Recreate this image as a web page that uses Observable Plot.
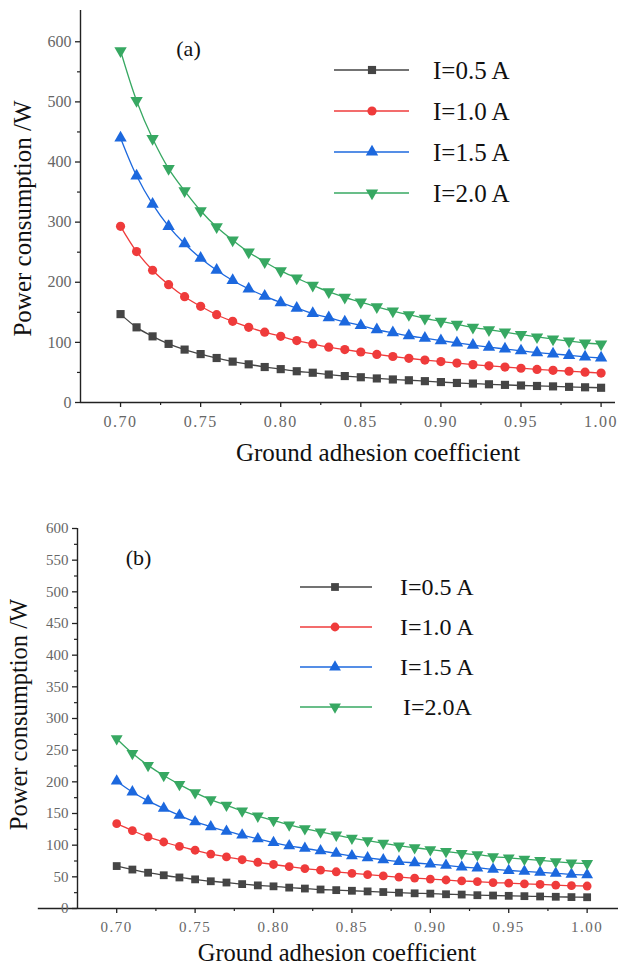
<!DOCTYPE html>
<html>
<head>
<meta charset="utf-8">
<script src="https://cdn.jsdelivr.net/npm/d3@7"></script>
<script src="https://cdn.jsdelivr.net/npm/@observablehq/plot@0.6"></script>
<style>
  html, body { margin: 0; padding: 0; background: #fff; }
  #wrap { width: 619px; }
  #wrap svg { display: block; }
  #wrap svg text { font-family: 'Liberation Serif', 'Times New Roman', serif !important; }
</style>
</head>
<body>
<div id="wrap"></div>
<script>
// ---------- data ----------
const mu = [0.70,0.71,0.72,0.73,0.74,0.75,0.76,0.77,0.78,0.79,0.80,0.81,0.82,0.83,0.84,0.85,0.86,0.87,0.88,0.89,0.90,0.91,0.92,0.93,0.94,0.95,0.96,0.97,0.98,0.99,1.00];

const seriesA = ["I=0.5 A", "I=1.0 A", "I=1.5 A", "I=2.0 A"];
const seriesB = ["I=0.5 A", "I=1.0 A", "I=1.5 A", "I=2.0A"];

const a05 = [147,125,110,97.5,88,80.5,74,68,63.5,59,55.5,52,49.5,46.5,44,42,40,38.3,37,35.5,34,32.5,31.5,30.3,29.3,28.3,27.5,26.8,26,25.3,24.5];
const a10 = [293,251,220,196,176,160,146,135,125,117,110,103,97.5,92,88,84,80,76.5,73.5,70.5,68,65.5,63,61,59,57,55,53.5,52,50.5,49];
const a15 = [440,377,330,293,264,240,220,203,189,177,166,157,148,141,134,128,121,116,111,107,103,99,95.5,92,89,86,83,81,78.5,76,74];
const a20 = [585,502,439,389,352,319,292,270,250,234,219,207,195,184,175,167,159,152,146,140,135,130,125,121,117,113,109,105.5,102,99,97];

const b05 = [67,61.5,56.5,52.5,49,46,43,41,38.5,36.5,35,33,31.5,30,29,28,27,26,25,24,23.5,22.5,22,21,20.5,20,19.5,19,18.5,18,17.8];
const b10 = [134,123,113,105,98,92,86,81.5,77,73,69.5,66,63,60.5,58,55.5,53.5,51.5,49.5,48,46.5,45,43.5,42.5,41,40,39,38,37,36,35.5];
const b15 = [201,184,170,158,147,137,129,122,116,110,104,99,95,91,87,83,80,77,74,72,70,68,65.5,64,62,60,58.5,57,55.5,54,53];
const b20 = [268,245,226,210,196,183,172,163,154,146,139,132,126,121,116,111,107,103,99,96,93,90,87,85,82,80,78,76,74,72,71];

const xMajor = [0.70,0.75,0.80,0.85,0.90,0.95,1.00];
const xMinor = [0.725,0.775,0.825,0.875,0.925,0.975];
const yMajorA = [0,100,200,300,400,500,600];
const yMinorA = [50,150,250,350,450,550];
const yMajorB = [0,50,100,150,200,250,300,350,400,450,500,550,600];
const yMinorB = [25,75,125,175,225,275,325,375,425,475,525,575];

const colors = ["#454545", "#ef3b3b", "#1c68de", "#37a862"];
const xTitle = "Ground adhesion coefficient";
const yTitle = "Power consumption /W";

// ---------- helpers ----------
const triDown = {
  draw(context, size) {
    const y = -Math.sqrt(size / (Math.sqrt(3) * 3));
    context.moveTo(0, -y * 2);
    context.lineTo(-Math.sqrt(3) * y, y);
    context.lineTo(Math.sqrt(3) * y, y);
    context.closePath();
  }
};
const symbols = [d3.symbolSquare, d3.symbolCircle, d3.symbolTriangle, triDown];

function tidy(names, arrays) {
  const out = [];
  names.forEach((s, i) => arrays[i].forEach((v, j) => out.push({series: s, x: mu[j], y: v})));
  return out;
}

const FONT = "'Liberation Serif', 'Times New Roman', serif";

function panel(o) {
  const data = tidy(o.names, o.arrays);
  const svg = Plot.plot({
    width: 619,
    height: o.height,
    marginLeft: o.ml, marginRight: o.mr, marginTop: o.mt, marginBottom: o.mb,
    style: {fontFamily: FONT, background: "#fff", overflow: "visible"},
    x: {domain: o.xDomain},
    y: {domain: o.yDomain},
    color: {domain: o.names, range: colors},
    symbol: {domain: o.names, range: symbols},
    marks: [
      Plot.line(data, {x: "x", y: "y", z: "series", stroke: "series", strokeWidth: 1.3, curve: "catmull-rom"}),
      Plot.dot(data, {x: "x", y: "y", fill: "series", symbol: "series", r: o.r, stroke: "none"}),
      // axis lines
      Plot.ruleY([0], {x1: o.axisX1, x2: o.xDomain[1], stroke: "#222", strokeWidth: 1.4}),
      Plot.ruleX([o.xDomain[0]], {y1: 0, y2: o.yDomain[1], stroke: "#222", strokeWidth: 1.4}),
      // x ticks
      Plot.axisX({ticks: xMajor, tickSize: 5, tickPadding: o.xPad, tickFormat: d3.format(".2f"), fontSize: o.xtf, fontFamily: FONT, fill: "#666", stroke: "#222", strokeWidth: 1.3, label: null}),
      Plot.axisX({ticks: xMinor, tickSize: 3, tickFormat: () => "", stroke: "#222", strokeWidth: 1.2, label: null}),
      // y ticks
      Plot.axisY({ticks: o.yMajor, tickSize: 5, tickPadding: 4, tickFormat: d3.format("d"), fontSize: o.ytf, fontFamily: FONT, fill: "#666", stroke: "#222", strokeWidth: 1.3, label: null}),
      Plot.axisY({ticks: o.yMinor, tickSize: 3, tickFormat: () => "", stroke: "#222", strokeWidth: 1.2, label: null}),
      // titles
      Plot.text([xTitle], {text: d => d, frameAnchor: "bottom", textAnchor: "middle", dx: o.xtdx, dy: o.xtdy, fontSize: o.titleFs, fontFamily: FONT, fill: "#111", lineAnchor: "bottom"}),
      Plot.text([yTitle], {text: d => d, frameAnchor: "left", textAnchor: "middle", lineAnchor: "middle", rotate: -90, dx: o.ytdx, dy: o.ytdy, fontSize: o.titleFs, fontFamily: FONT, fill: "#111"}),
      Plot.text([o.tag], {text: d => d, frameAnchor: "top-left", dx: o.tagdx, dy: o.tagdy, fontSize: 22, fontFamily: FONT, fill: "#111", textAnchor: "middle", lineAnchor: "middle"})
    ]
  });
  // legend
  const g = d3.select(svg).append("g").attr("text-anchor", "start");
  o.names.forEach((s, i) => {
    const y = o.lg.y0 + i * o.lg.dy;
    g.append("line").attr("x1", o.lg.x1).attr("x2", o.lg.x2).attr("y1", y).attr("y2", y)
      .attr("stroke", colors[i]).attr("stroke-width", 1.3);
    g.append("path").attr("transform", `translate(${o.lg.xm},${y})`)
      .attr("d", d3.symbol(symbols[i], Math.PI * o.r * o.r)()).attr("fill", colors[i]);
    g.append("text").attr("x", o.lg.xt + (o.lg.xadj ? o.lg.xadj[i] : 0)).attr("y", y).attr("dy", "0.35em")
      .attr("text-anchor", "start")
      .attr("font-size", o.lg.fs).attr("font-family", FONT).attr("fill", "#111").text(s);
  });
  d3.select(svg).selectAll("text").style("font-family", FONT).style("font-variant", "normal");
  d3.select(svg).selectAll("g[aria-label='x-axis tick label'] text").style("letter-spacing", "1.5px");
  return svg;
}

const wrap = document.getElementById("wrap");
wrap.appendChild(panel({
  names: seriesA, arrays: [a05, a10, a15, a20], height: 470,
  ml: 80, mr: 4, mt: 10, mb: 68,
  xDomain: [0.675, 1.009], yDomain: [0, 652], axisX1: 0.675,
  yMajor: yMajorA, yMinor: yMinorA, r: 4.6,
  xPad: 8, xtf: 16, ytf: 16, titleFs: 25,
  xtdx: 30, xtdy: 58, ytdx: -58, ytdy: 12,
  tag: "(a)", tagdx: 108, tagdy: 38,
  lg: {x1: 334, x2: 409, xm: 372, xt: 433, y0: 70, dy: 41, fs: 25}
}));
wrap.appendChild(panel({
  names: seriesB, arrays: [b05, b10, b15, b20], height: 494,
  ml: 77, mr: 1, mt: 58, mb: 56,
  xDomain: [0.675, 1.02], yDomain: [0, 600], axisX1: 0.65,
  yMajor: yMajorB, yMinor: yMinorB, r: 4.4,
  xPad: 8, xtf: 15, ytf: 15, titleFs: 24.5,
  xtdx: -11, xtdy: 52, ytdx: -58, ytdy: -4,
  tag: "(b)", tagdx: 61, tagdy: 29,
  lg: {x1: 300, x2: 372, xm: 335, xt: 400, y0: 117, dy: 40, fs: 24, xadj: [0,0,0,3]}
}));
</script>
</body>
</html>
